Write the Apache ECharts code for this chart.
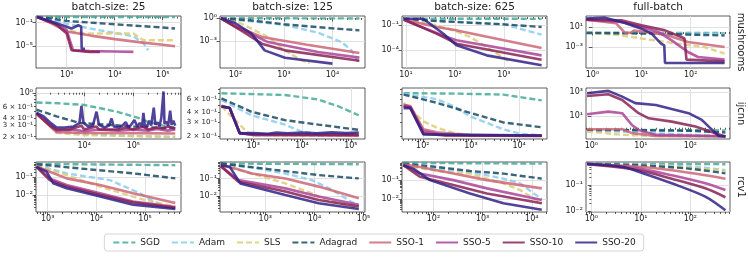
<!DOCTYPE html>
<html><head><meta charset="utf-8">
<script src="https://cdn.jsdelivr.net/npm/echarts@6/dist/echarts.min.js"></script>
<style>html,body{margin:0;padding:0;background:#fff}#c{width:748px;height:260px}</style>
</head><body><div id="c"></div>
<script>
const METHODS = ['SGD','Adam','SLS','Adagrad','SSO-1','SSO-5','SSO-10','SSO-20'];
const COLORS = ['#44AA99','#88CCEE','#DDCC77','#1A4A64','#CC6677','#AA4499','#882255','#332288'];
const DASHED = [true,true,true,true,false,false,false,false];
const COL_TITLES = ['batch-size: 25','batch-size: 125','batch-size: 625','full-batch'];
const ROW_NAMES = ['mushrooms','ijcnn','rcv1'];

// ---------- mushrooms ----------
const mush25_x = [229, 2.4e5], mush25_y = [2.1e-9, 1.29], mush25_xt = [1e3,1e4,1e5], mush25_yt = [1e-1,1e-5];
const mush25 = {
 'SGD':[[240,0.9],[1e3,0.88],[1e4,0.86],[1e5,0.83],[1.8e5,0.82]],
 'Adam':[[240,0.9],[500,0.3],[1e3,0.06],[2e3,0.02],[4900,5e-3],[2.45e4,4.9e-4],[4e4,2.9e-5],[5e4,2.1e-6]],
 'SLS':[[240,0.9],[600,0.05],[1e3,6e-3],[2240,1.4e-3],[2.45e4,1.4e-3],[4e4,1e-4],[1.8e5,1e-4]],
 'Adagrad':[[240,0.9],[500,0.45],[1e3,0.19],[1e4,0.051],[1e5,0.0145],[1.8e5,0.0098]],
 'SSO-1':[[240,0.9],[500,0.06],[1e3,3.2e-3],[3160,6.3e-4],[1e4,1.6e-4],[3.16e4,5e-5],[1e5,1.8e-5],[1.8e5,1e-5]],
 'SSO-5':[[240,0.9],[500,0.1],[1e3,5e-3],[1350,2.1e-6],[3e3,1.5e-6],[1e4,1.3e-6],[2.45e4,1.1e-6]],
 'SSO-10':[[240,0.9],[600,0.05],[1e3,1.4e-3],[1260,2.1e-6],[3e3,1.1e-6],[4900,1.1e-6]],
 'SSO-20':[[240,0.9],[450,0.19],[1260,0.01],[1740,0.035],[2000,0.02],[2050,3.7e-6],[2400,3.7e-6]]
};
const mush125_x = [48, 4.7e4], mush125_y = [3.7e-7, 1.82], mush125_xt = [1e2,1e3,1e4], mush125_yt = [1e0,1e-3];
const mush125 = {
 'SGD':[[50,0.95],[1e3,0.92],[1e4,0.9],[3.6e4,0.88]],
 'Adam':[[50,0.9],[300,0.3],[1e3,0.13],[5e3,0.013],[1.55e4,8e-4],[2.45e4,6.9e-5],[3.4e4,2.2e-6]],
 'SLS':[[50,0.9],[130,0.2],[470,3.6e-3],[1050,6.9e-5],[2300,3.6e-6],[3400,1.6e-6]],
 'Adagrad':[[50,0.9],[200,0.5],[1e3,0.16],[1e4,0.047],[3.6e4,0.026]],
 'SSO-1':[[50,0.9],[112,0.07],[350,3.6e-3],[3e3,3.7e-4],[3.6e4,3.2e-5]],
 'SSO-5':[[50,0.9],[98,0.085],[470,8e-4],[5e3,4.3e-5],[3.6e4,8e-6]],
 'SSO-10':[[50,0.9],[130,0.026],[350,5e-4],[1050,6.9e-5],[3.6e4,3.2e-6]],
 'SSO-20':[[50,0.9],[98,0.23],[214,0.01],[400,6.9e-5],[1050,7.9e-6],[1e4,1.35e-6]]
};
const mush625_x = [8.3, 7600], mush625_y = [7.6e-7, 1.32], mush625_xt = [1e1,1e2,1e3], mush625_yt = [1e-1,1e-4];
const mush625 = {
 'SGD':[[9,0.63],[100,0.62],[1e3,0.61],[5900,0.6]],
 'Adam':[[9,0.6],[42,0.35],[1e3,0.14],[2100,0.04],[5900,7.6e-3]],
 'SLS':[[9,0.5],[42,0.1],[93,0.025],[204,4e-3],[445,2.5e-4],[1320,4e-6]],
 'Adagrad':[[9,0.6],[42,0.33],[1e3,0.13],[5900,0.063]],
 'SSO-1':[[9,0.5],[42,0.063],[93,0.03],[1e3,1.6e-3],[5900,1.9e-4]],
 'SSO-5':[[9,0.45],[68,4e-3],[108,1.6e-3],[5900,2.5e-5]],
 'SSO-10':[[9,0.5],[42,0.01],[108,6.3e-4],[5900,7.6e-6]],
 'SSO-20':[[9,0.63],[22.5,0.63],[58,0.01],[108,4e-4],[445,2.5e-5],[5900,1.6e-6]]
};
const mushFB_x = [0.74, 631], mushFB_y = [6.3e-8, 1580], mushFB_xt = [1e0,1e1,1e2], mushFB_yt = [1e1,1e-3];
const mushFB = {
 'SGD':[[0.75,0.74],[10,0.7],[100,0.65],[490,0.6]],
 'Adam':[[0.75,0.7],[10,0.6],[100,0.5],[490,0.45]],
 'SLS':[[0.75,0.7],[3,0.3],[10,0.05],[50,5e-3],[190,1e-3],[490,4.7e-5]],
 'Adagrad':[[0.75,0.63],[10,0.5],[100,0.3],[490,0.2]],
 'SSO-1':[[0.75,300],[3,60],[4.5,0.8],[6,0.7],[7,2],[12,1],[30,0.3],[88,0.01],[490,1e-3]],
 'SSO-5':[[0.75,300],[3.9,100],[10,10],[22,1],[41,0.021],[88,1e-4],[141,1e-5],[490,3e-6]],
 'SSO-10':[[0.75,290],[3.9,215],[10,21],[30,2.1],[64,0.1],[75,0.05],[82,3e-6],[490,1.35e-6]],
 'SSO-20':[[0.75,470],[1.8,740],[4.6,63],[10,4.6],[16,0.46],[25,4.7e-3],[29,2e-3],[30,6.3e-7],[490,6.3e-7]]
};

// ---------- ijcnn ----------
const ijcnn25_x = [1047, 9.3e5], ijcnn25_y = [0.184, 1.19], ijcnn25_xt = [1e4,1e5], ijcnn25_yt = [1e0];
const ijcnn25 = {
 'SGD':[[1070,0.7],[3000,0.68],[1e4,0.64],[4.6e4,0.5],[1.37e5,0.39],[1.87e5,0.35],[4e5,0.3],[7.1e5,0.28]],
 'Adam':[[1070,0.5],[2750,0.255],[1e4,0.22],[1e5,0.205],[7.1e5,0.198]],
 'SLS':[[1070,0.47],[2750,0.23],[1e4,0.212],[1e5,0.205],[7.1e5,0.2]],
 'Adagrad':[[1070,0.54],[2750,0.42],[8200,0.33],[3e4,0.31],[1e5,0.29],[7.1e5,0.27]],
 'SSO-1':[[1070,0.47],[2750,0.235],[1e4,0.23],[1e5,0.228],[7.1e5,0.225]],
 'SSO-5':[[1070,0.46],[2750,0.25],[6000,0.26],[1e4,0.245],[2e4,0.26],[5e4,0.25],[1e5,0.26],[2e5,0.25],[3e5,0.265],[5e5,0.25],[7.1e5,0.26]],
 'SSO-10':[[1070,0.47],[2000,0.3],[2750,0.26],[5000,0.26],[8800,0.3],[1e4,0.26],[1.78e4,0.29],[2e4,0.26],[5e4,0.26],[7e4,0.28],[1e5,0.26],[1.6e5,0.29],[2e5,0.26],[3e5,0.28],[4e5,0.27],[5e5,0.29],[7.1e5,0.27]],
 'SSO-20':[[1070,0.48],[1500,0.42],[2000,0.34],[2750,0.28],[4000,0.28],[6000,0.29],[8000,0.33],[8800,0.62],[9600,0.34],[1.2e4,0.29],[1.5e4,0.3],[1.78e4,0.5],[2e4,0.31],[2.6e4,0.28],[3.2e4,0.3],[3.6e4,0.39],[4e4,0.29],[5e4,0.28],[6e4,0.3],[7e4,0.34],[8e4,0.28],[9e4,0.31],[1.05e5,0.37],[1.2e5,0.29],[1.35e5,0.33],[1.5e5,0.29],[1.6e5,0.48],[1.7e5,0.31],[1.9e5,0.29],[2.1e5,0.36],[2.3e5,0.3],[2.6e5,0.58],[2.8e5,0.31],[3.1e5,0.34],[3.4e5,0.29],[3.7e5,0.4],[4.1e5,1.05],[4.3e5,0.32],[4.7e5,0.35],[5.1e5,0.3],[5.6e5,0.52],[6e5,0.31],[6.5e5,0.36],[7.1e5,0.3]]
};
const ijcnn125_x = [209, 1.95e5], ijcnn125_y = [0.183, 0.83], ijcnn125_xt = [1e3,1e4,1e5], ijcnn125_yt = [];
const ijcnn125 = {
 'SGD':[[224,0.71],[4480,0.675],[2.17e4,0.59],[5.6e4,0.48],[1.45e5,0.37]],
 'Adam':[[224,0.58],[925,0.37],[4480,0.28],[9800,0.228],[2.17e4,0.216],[1.45e5,0.205]],
 'SLS':[[224,0.48],[530,0.28],[675,0.24],[925,0.205],[1.45e5,0.2]],
 'Adagrad':[[224,0.61],[925,0.41],[4480,0.32],[2.17e4,0.28],[1.45e5,0.24]],
 'SSO-1':[[224,0.49],[330,0.46],[530,0.22],[1e3,0.207],[1.45e5,0.204]],
 'SSO-5':[[224,0.485],[330,0.46],[530,0.218],[1e3,0.207],[1.45e5,0.205]],
 'SSO-10':[[224,0.48],[330,0.46],[530,0.217],[1e3,0.21],[1e4,0.208],[1.45e5,0.207]],
 'SSO-20':[[224,0.48],[330,0.46],[530,0.216],[1000,0.218],[2000,0.214],[3000,0.221],[5000,0.217],[1e4,0.221],[2e4,0.216],[4e4,0.223],[8e4,0.218],[1.45e5,0.222]]
};
const ijcnn625_x = [37, 3.8e4], ijcnn625_y = [0.183, 0.84], ijcnn625_xt = [1e2,1e3,1e4], ijcnn625_yt = [];
const ijcnn625 = {
 'SGD':[[40,0.72],[500,0.71],[4700,0.69],[2.95e4,0.58]],
 'Adam':[[40,0.71],[195,0.6],[430,0.49],[960,0.36],[4700,0.244],[1.05e4,0.214],[2.95e4,0.204]],
 'SLS':[[40,0.54],[103,0.31],[195,0.257],[430,0.22],[960,0.206],[2.95e4,0.203]],
 'Adagrad':[[40,0.69],[195,0.54],[960,0.4],[4700,0.3],[2.95e4,0.26]],
 'SSO-1':[[40,0.51],[55,0.49],[103,0.244],[195,0.224],[960,0.204],[2.95e4,0.202]],
 'SSO-5':[[40,0.5],[55,0.48],[103,0.23],[300,0.205],[2.95e4,0.202]],
 'SSO-10':[[40,0.48],[55,0.47],[103,0.215],[300,0.203],[2.95e4,0.201]],
 'SSO-20':[[40,0.46],[55,0.46],[103,0.21],[2.95e4,0.203]]
};
const ijcnnFB_x = [0.78, 631], ijcnnFB_y = [0.112, 2290], ijcnnFB_xt = [1e0,1e1,1e2], ijcnnFB_yt = [1e3,1e1];
const ijcnnFB = {
 'SGD':[[0.82,0.66],[10,0.65],[100,0.62],[510,0.6]],
 'Adam':[[0.82,0.6],[10,0.4],[100,0.25],[510,0.2]],
 'SLS':[[0.82,0.47],[1.9,0.35],[4.2,0.25],[20,0.2],[510,0.19]],
 'Adagrad':[[0.82,0.66],[10,0.62],[100,0.55],[510,0.4]],
 'SSO-1':[[0.82,0.75],[4.2,0.75],[6.6,0.35],[20,0.2],[510,0.19]],
 'SSO-5':[[0.82,13.8],[2.2,23],[4.2,17],[6.6,1.7],[9,0.66],[20,0.25],[510,0.19]],
 'SSO-10':[[0.82,490],[2.2,680],[4.2,225],[9,17],[14.4,6.3],[42,3.3],[126,1.26],[320,0.34],[510,0.18]],
 'SSO-20':[[0.82,820],[2.2,1300],[4.2,430],[7.7,120],[20,85],[92,17],[170,4.6],[275,0.66],[375,0.2],[510,0.18]]
};

// ---------- rcv1 ----------
const rcv25_x = [575, 5.5e5], rcv25_y = [1.05e-3, 0.76], rcv25_xt = [1e3,1e4,1e5], rcv25_yt = [1e-1,1e-2];
const rcv25 = {
 'SGD':[[590,0.6],[1e4,0.55],[1e5,0.52],[4.2e5,0.5]],
 'Adam':[[590,0.57],[1100,0.31],[2450,0.17],[1.9e4,0.07],[7.9e4,0.0124],[1.5e5,4.2e-3],[2.8e5,2.2e-3]],
 'SLS':[[590,0.5],[1100,0.26],[2450,0.135],[1.19e4,0.03],[5.7e4,8e-3],[1.27e5,4.2e-3],[4.2e5,2.2e-3]],
 'Adagrad':[[590,0.57],[5400,0.31],[5.7e4,0.17],[4.2e5,0.088]],
 'SSO-1':[[590,0.44],[1100,0.21],[2450,0.088],[1.19e4,0.037],[5.7e4,0.0124],[4.2e5,3.4e-3]],
 'SSO-5':[[590,0.4],[1100,0.088],[2450,0.037],[1.19e4,0.0124],[5.7e4,4.2e-3],[4.2e5,2e-3]],
 'SSO-10':[[590,0.4],[1100,0.07],[2450,0.03],[1.19e4,0.01],[5.7e4,3.7e-3],[4.2e5,1.8e-3]],
 'SSO-20':[[590,0.4],[950,0.21],[1300,0.046],[2450,0.024],[1.19e4,8e-3],[5.7e4,2.7e-3],[4.2e5,1.55e-3]]
};
const rcv125_x = [120, 1.07e5], rcv125_y = [1.2e-3, 0.87], rcv125_xt = [1e3,1e4,1e5], rcv125_yt = [1e-1,1e-2];
const rcv125 = {
 'SGD':[[125,0.71],[1e3,0.69],[1e4,0.67],[8e4,0.65]],
 'Adam':[[125,0.65],[535,0.42],[2560,0.19],[8900,0.08],[2.3e4,0.022],[4.3e4,7.4e-3],[8e4,2.5e-3]],
 'SLS':[[125,0.57],[535,0.19],[2560,0.052],[8900,0.014],[1.67e4,5.9e-3],[4.3e4,3.1e-3],[8e4,1.8e-3]],
 'Adagrad':[[125,0.71],[1170,0.34],[1.22e4,0.155],[8e4,0.1]],
 'SSO-1':[[125,0.57],[245,0.37],[535,0.19],[2560,0.1],[1.22e4,0.034],[8e4,7.4e-3]],
 'SSO-5':[[125,0.5],[285,0.08],[2560,0.027],[1.22e4,9.2e-3],[8e4,3.1e-3]],
 'SSO-10':[[125,0.5],[285,0.065],[2560,0.0177],[1.22e4,5.9e-3],[8e4,2.5e-3]],
 'SSO-20':[[125,0.57],[190,0.46],[310,0.052],[2560,0.0114],[1.22e4,3.8e-3],[8e4,1.8e-3]]
};
const rcv625_x = [23, 2.04e4], rcv625_y = [2.14e-3, 0.89], rcv625_xt = [1e2,1e3,1e4], rcv625_yt = [1e-1,1e-2];
const rcv625 = {
 'SGD':[[24.5,0.79],[1e3,0.76],[1.6e4,0.73]],
 'Adam':[[24.5,0.67],[117,0.4],[555,0.27],[2650,0.12],[5800,0.067],[1.6e4,0.01]],
 'SLS':[[24.5,0.6],[117,0.3],[555,0.22],[2650,0.067],[5800,0.03],[1.6e4,6.2e-3]],
 'Adagrad':[[24.5,0.73],[117,0.49],[555,0.3],[2650,0.22],[1.6e4,0.12]],
 'SSO-1':[[24.5,0.67],[53,0.49],[255,0.22],[1220,0.1],[1.6e4,0.037]],
 'SSO-5':[[24.5,0.6],[53,0.22],[255,0.1],[1220,0.037],[1.6e4,9.2e-3]],
 'SSO-10':[[24.5,0.6],[53,0.15],[255,0.055],[1220,0.02],[1.6e4,6.2e-3]],
 'SSO-20':[[24.5,0.6],[39,0.4],[85,0.1],[555,0.02],[2650,6.2e-3],[1.6e4,2.8e-3]]
};
const rcvFB_x = [0.78, 631], rcvFB_y = [9.5e-3, 0.79], rcvFB_xt = [1e0,1e1,1e2], rcvFB_yt = [1e-1,1e-2];
const rcvFB = {
 'SGD':[[0.82,0.68],[10,0.67],[100,0.66],[510,0.65]],
 'Adam':[[0.82,0.68],[20,0.6],[150,0.5],[510,0.38]],
 'SLS':[[0.82,0.66],[20,0.56],[150,0.45],[510,0.35]],
 'Adagrad':[[0.82,0.68],[9,0.59],[92,0.44],[510,0.29]],
 'SSO-1':[[0.82,0.66],[9,0.52],[42,0.38],[200,0.245],[510,0.18]],
 'SSO-5':[[0.82,0.66],[9,0.44],[42,0.245],[200,0.12],[510,0.066]],
 'SSO-10':[[0.82,0.66],[9,0.38],[42,0.18],[200,0.077],[510,0.035]],
 'SSO-20':[[0.82,0.66],[4.2,0.52],[10.6,0.3],[42,0.12],[200,0.037],[510,0.011]]
};

// minor y tick labels for ijcnn (matplotlib-style "m × 10^e")
const ijcnn_minorLabels = [0.6, 0.4, 0.3, 0.2];

// ---------- layout ----------
const COL_LEFT = [36, 220, 402, 586], COL_W = [145, 145, 145, 144];
const ROW_TOP = [16, 88, 162], ROW_H = [52, 51, 50];
const FONT = 'DejaVu Sans';

const PANELS = [
 {r:0,c:0,d:mush25,x:mush25_x,y:mush25_y,xt:mush25_xt,yt:mush25_yt,yMinor:false,yl:[]},
 {r:0,c:1,d:mush125,x:mush125_x,y:mush125_y,xt:mush125_xt,yt:mush125_yt,yMinor:false,yl:[]},
 {r:0,c:2,d:mush625,x:mush625_x,y:mush625_y,xt:mush625_xt,yt:mush625_yt,yMinor:false,yl:[]},
 {r:0,c:3,d:mushFB,x:mushFB_x,y:mushFB_y,xt:mushFB_xt,yt:mushFB_yt,yMinor:false,yl:[]},
 {r:1,c:0,d:ijcnn25,x:ijcnn25_x,y:ijcnn25_y,xt:ijcnn25_xt,yt:ijcnn25_yt,yMinor:true,yl:ijcnn_minorLabels},
 {r:1,c:1,d:ijcnn125,x:ijcnn125_x,y:ijcnn125_y,xt:ijcnn125_xt,yt:ijcnn125_yt,yMinor:true,yl:ijcnn_minorLabels},
 {r:1,c:2,d:ijcnn625,x:ijcnn625_x,y:ijcnn625_y,xt:ijcnn625_xt,yt:ijcnn625_yt,yMinor:true,yl:[]},
 {r:1,c:3,d:ijcnnFB,x:ijcnnFB_x,y:ijcnnFB_y,xt:ijcnnFB_xt,yt:ijcnnFB_yt,yMinor:false,yl:[]},
 {r:2,c:0,d:rcv25,x:rcv25_x,y:rcv25_y,xt:rcv25_xt,yt:rcv25_yt,yMinor:true,yl:[]},
 {r:2,c:1,d:rcv125,x:rcv125_x,y:rcv125_y,xt:rcv125_xt,yt:rcv125_yt,yMinor:true,yl:[]},
 {r:2,c:2,d:rcv625,x:rcv625_x,y:rcv625_y,xt:rcv625_xt,yt:rcv625_yt,yMinor:true,yl:[]},
 {r:2,c:3,d:rcvFB,x:rcvFB_x,y:rcvFB_y,xt:rcvFB_xt,yt:rcvFB_yt,yMinor:true,yl:[],smooth:true}
];

const SUP = {'-':'⁻','0':'⁰','1':'¹','2':'²','3':'³','4':'⁴','5':'⁵','6':'⁶','7':'⁷','8':'⁸','9':'⁹'};
function pow10Label(e){ return '10' + String(e).split('').map(ch => SUP[ch]).join(''); }
function tickLabel(raw){
  const e = Math.floor(Math.log10(raw) + 1e-9);
  const m = Math.round(raw / Math.pow(10, e));
  return m === 1 ? pow10Label(e) : m + ' × ' + pow10Label(e);
}
function minorTicks(lo, hi){
  const out = [];
  for (let d = Math.floor(Math.log10(lo)) - 1; d <= Math.ceil(Math.log10(hi)); d++) {
    for (let k = 2; k <= 9; k++) { const v = k * Math.pow(10, d); if (v >= lo && v <= hi) out.push(v); }
  }
  return out;
}
const L = v => Math.log10(v);

function makeAxis(gi, lo, hi, ticks, labels, grid, len, isY, fs){
  return {
    gridIndex: gi, type: 'value', min: L(lo), max: L(hi), position: isY ? 'left' : 'bottom',
    axisLine: {show: false},
    axisTick: {show: ticks.length > 0, length: len, inside: false, customValues: ticks.map(L), lineStyle: {color: '#333', width: 0.8}},
    axisLabel: {show: labels.length > 0, customValues: labels.map(L), hideOverlap: false,
      formatter: v => tickLabel(Math.pow(10, v)), fontSize: fs || 8, color: '#222', fontFamily: FONT, margin: 3},
    splitLine: {show: grid && ticks.length > 0, lineStyle: {color: '#d9d9d9', width: 0.8}},
    minorTick: {show: false}, minorSplitLine: {show: false}
  };
}

const option = {
  animation: false,
  textStyle: {fontFamily: FONT},
  grid: [], xAxis: [], yAxis: [], series: [], graphic: [],
  legend: {
    data: METHODS, left: 'center', top: 234, itemWidth: 22, itemHeight: 10, itemGap: 11,
    padding: [4, 8], borderColor: '#cccccc', borderWidth: 0.8, borderRadius: 3,
    itemStyle: {opacity: 0, borderWidth: 0},
    textStyle: {fontSize: 9, color: '#222', fontFamily: FONT}
  }
};

PANELS.forEach((p, i) => {
  option.grid.push({left: COL_LEFT[p.c], top: ROW_TOP[p.r], width: COL_W[p.c], height: ROW_H[p.r],
    show: true, borderColor: '#333', borderWidth: 0.8, backgroundColor: 'transparent', containLabel: false, outerBoundsMode: 'none'});
  option.xAxis.push(makeAxis(i, p.x[0], p.x[1], p.xt, p.xt, true, 3.5, false));
  option.xAxis.push(makeAxis(i, p.x[0], p.x[1], minorTicks(p.x[0], p.x[1]), [], false, 2, false));
  option.yAxis.push(makeAxis(i, p.y[0], p.y[1], p.yt, p.yt, true, 3.5, true));
  option.yAxis.push(makeAxis(i, p.y[0], p.y[1], p.yMinor ? minorTicks(p.y[0], p.y[1]) : [], p.yl, false, 2, true, 7));
  METHODS.forEach((m, k) => {
    option.series.push({
      type: 'line', name: m, xAxisIndex: 2 * i, yAxisIndex: 2 * i,
      data: p.d[m].map(q => [L(q[0]), L(q[1])]),
      symbol: 'none', showSymbol: false, smooth: p.smooth ? 0.3 : false, clip: true, silent: true, z: 2 + k,
      lineStyle: {color: COLORS[k], width: DASHED[k] ? 2.4 : 2.6, type: DASHED[k] ? [6, 3] : 'solid', opacity: 0.85},
      itemStyle: {color: COLORS[k]}
    });
  });
});

COL_TITLES.forEach((t, c) => option.graphic.push({
  type: 'text', x: COL_LEFT[c] + COL_W[c] / 2, y: 7, silent: true,
  style: {text: t, fill: '#222', fontSize: 10.5, fontFamily: FONT, align: 'center', verticalAlign: 'middle', textAlign: 'center', textVerticalAlign: 'middle'}
}));
ROW_NAMES.forEach((t, r) => option.graphic.push({
  type: 'text', x: 741, y: ROW_TOP[r] + ROW_H[r] / 2, rotation: -Math.PI / 2, silent: true,
  style: {text: t, fill: '#222', fontSize: 10, fontFamily: FONT, align: 'center', verticalAlign: 'middle', textAlign: 'center', textVerticalAlign: 'middle'}
}));

const chart = echarts.init(document.getElementById('c'), null, {renderer: 'canvas'});
chart.setOption(option);
</script></body></html>
